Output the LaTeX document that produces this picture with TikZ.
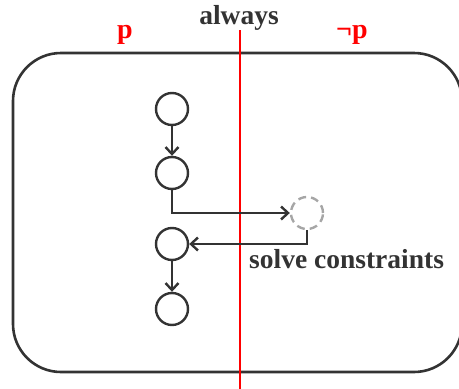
\documentclass[tikz,border=0pt]{standalone}
\usepackage{fontspec}
\setmainfont{Liberation Serif}
\usetikzlibrary{arrows.meta}
\definecolor{ink}{HTML}{333333}
\definecolor{ghost}{HTML}{A6A6A6}
\begin{document}
\begin{tikzpicture}[x=1pt,y=-1pt,
  st/.style={circle,draw=ink,line width=2.4pt,minimum size=32pt,inner sep=0pt},
  ghostst/.style={circle,draw=ghost,line width=2.4pt,dash pattern=on 8pt off 5pt,minimum size=32pt,inner sep=0pt},
  conn/.style={draw=ink,line width=2.4pt,-{Straight Barb[length=7pt,width=13pt,line width=2.4pt]}},
  lbl/.style={font=\fontsize{27.5}{30}\selectfont\bfseries,text=ink,inner sep=0pt},
  redlbl/.style={font=\fontsize{28}{30}\selectfont\bfseries,text=red,inner sep=0pt}]
\useasboundingbox (0,0) rectangle (459,389);
\draw[ink,line width=2.6pt,rounded corners=48pt] (13,53) rectangle (462,372);
\draw[red,line width=2.8pt] (240,30) -- (240,389);
\node[lbl,anchor=base] (always) at (239,24) {always};
\node[redlbl,anchor=base] (p) at (125,38) {p};
\node[redlbl,anchor=base] (np) at (352,38) {¬p};
\node[st] (a) at (172,109) {};
\node[st] (b) at (172,173) {};
\node[ghostst] (g) at (307,213) {};
\node[st] (c) at (172,244) {};
\node[st] (d) at (172,309) {};
\draw[conn] (a) -- (b);
\draw[conn] (b.south) |- (g.west);
\draw[conn] (g.south) |- (c.east);
\draw[conn] (c) -- (d);
\node[lbl,anchor=base west] (solve) at (249,268) {solve constraints};
\end{tikzpicture}
\end{document}
